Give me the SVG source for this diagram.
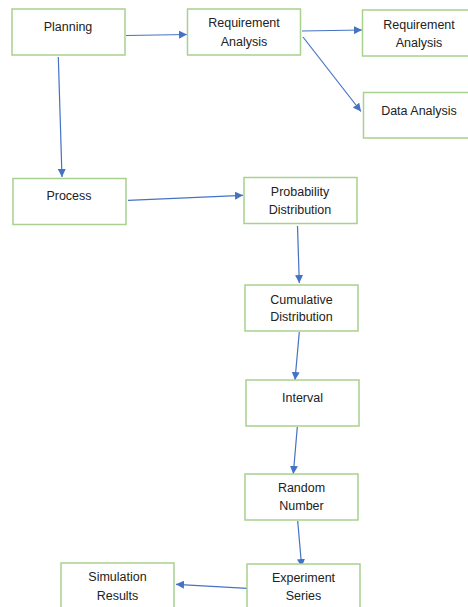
<svg xmlns="http://www.w3.org/2000/svg" width="468" height="607" viewBox="0 0 468 607">
<style>
.box{fill:#fff;stroke:#a9d18e;stroke-width:1.5}
.t{font-family:"Liberation Sans",Arial,sans-serif;font-size:12.5px;fill:#222;text-anchor:middle}
.c{stroke:#4472c4;stroke-width:1.2;fill:none;marker-end:url(#ah)}
</style>
<defs>
<marker id="ah" markerUnits="userSpaceOnUse" markerWidth="9" markerHeight="8" refX="8" refY="4" orient="auto">
<path d="M0,0 L8,4 L0,8 Z" fill="#4472c4"/>
</marker>
</defs>
<rect width="468" height="607" fill="#fff"/>
<g id="connectors">
<line class="c" x1="126" y1="35.5" x2="187" y2="34.5"/>
<line class="c" x1="302" y1="31" x2="362" y2="30"/>
<line class="c" x1="303" y1="37" x2="361" y2="111.5"/>
<line class="c" x1="58.3" y1="57" x2="62" y2="177"/>
<line class="c" x1="128" y1="200.3" x2="243" y2="195.3"/>
<line class="c" x1="297.5" y1="226" x2="299.3" y2="283"/>
<line class="c" x1="299.3" y1="332" x2="295" y2="380"/>
<line class="c" x1="297.3" y1="427" x2="293.3" y2="474"/>
<line class="c" x1="297.7" y1="521" x2="301.7" y2="567"/>
<line class="c" x1="247.3" y1="588.3" x2="176" y2="584.3"/>
</g>
<g id="planning"><rect class="box" x="12" y="9" width="113" height="46"/><text class="t" x="68" y="31">Planning</text></g>
<g id="req1"><rect class="box" x="187.5" y="9" width="113" height="46"/><text class="t" x="244" y="27.3">Requirement</text><text class="t" x="244" y="45.6">Analysis</text></g>
<g id="req2"><rect class="box" x="362.5" y="10" width="113" height="46"/><text class="t" x="419" y="28.6">Requirement</text><text class="t" x="419" y="46.6">Analysis</text></g>
<g id="data"><rect class="box" x="363.5" y="92.5" width="113" height="45.5"/><text class="t" x="419" y="114.6">Data Analysis</text></g>
<g id="process"><rect class="box" x="13" y="178.5" width="113" height="46"/><text class="t" x="69" y="200.3">Process</text></g>
<g id="prob"><rect class="box" x="244" y="177.5" width="113" height="46"/><text class="t" x="300" y="196.3">Probability</text><text class="t" x="300" y="214">Distribution</text></g>
<g id="cumul"><rect class="box" x="245" y="285" width="113" height="46"/><text class="t" x="301.5" y="303.6">Cumulative</text><text class="t" x="301.5" y="321.3">Distribution</text></g>
<g id="interval"><rect class="box" x="246" y="380" width="113" height="46"/><text class="t" x="302.5" y="402">Interval</text></g>
<g id="random"><rect class="box" x="245" y="474" width="113" height="46"/><text class="t" x="301.5" y="492">Random</text><text class="t" x="301.5" y="510.3">Number</text></g>
<g id="experiment"><rect class="box" x="247" y="564" width="113" height="46"/><text class="t" x="303.5" y="582.3">Experiment</text><text class="t" x="303.5" y="600.3">Series</text></g>
<g id="simulation"><rect class="box" x="61" y="563" width="113" height="46"/><text class="t" x="117.5" y="581.3">Simulation</text><text class="t" x="117.5" y="599.6">Results</text></g>
</svg>
